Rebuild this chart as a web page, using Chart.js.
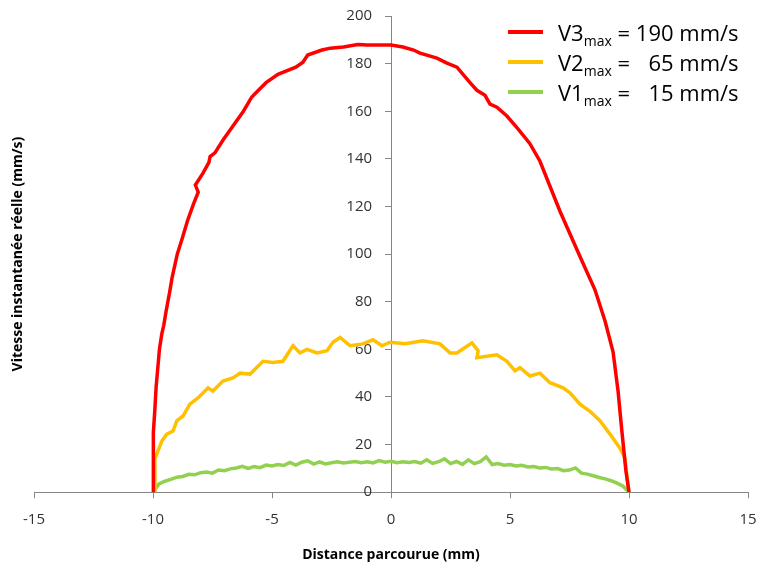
<!DOCTYPE html>
<html>
<head>
<meta charset="utf-8">
<script src="https://cdn.jsdelivr.net/npm/chart.js@4.4.1/dist/chart.umd.min.js"></script>
<style>
html, body { margin:0; padding:0; background:#fff; }
#wrap { position:relative; width:758px; height:566px; }
#legend { position:absolute; left:508px; top:17px; font-family:"Open Sans", sans-serif; font-size:22px; color:#000; border-collapse:collapse; }
#legend td { padding:0; height:30px; line-height:30px; white-space:pre; }
#legend .sw { width:50px; }
#legend .sw span { display:block; width:35px; height:4px; }
#legend .num { text-align:right; }
#legend sub { font-size:14px; vertical-align:-5px; line-height:0; }
</style>
</head>
<body>
<div id="wrap">
  <canvas id="chart" width="758" height="566"></canvas>
  <table id="legend"></table>
</div>
<script>
// series names and max speeds
const seriesNames = ["V3", "V2", "V1"];
const seriesMax = [190, 65, 15];
const seriesColors = ["#FF0000", "#FFC000", "#92D050"];

// V3 (red)
const v3X = [-10.0, -10.0, -9.97, -9.92, -9.87, -9.80, -9.73, -9.63, -9.55, -9.45, -9.30, -9.20, -8.98, -8.76, -8.55, -8.30, -8.10, -8.22, -7.90, -7.65, -7.60, -7.40, -7.05, -6.70, -6.20, -5.85, -5.60, -5.25, -4.75, -4.00, -3.70, -3.50, -2.90, -2.55, -2.00, -1.40, -1.00, 0.0, 0.50, 0.95, 1.22, 1.93, 2.35, 2.77, 3.32, 3.61, 3.95, 4.16, 4.45, 4.87, 5.30, 5.83, 6.26, 7.10, 7.94, 8.57, 8.99, 9.33, 9.54, 9.70, 9.87, 10.0];
const v3Y = [0, 20, 25, 35, 44, 52, 60, 66.5, 70, 76, 84, 90, 100, 107, 114, 121, 126, 129, 134, 138.5, 141, 142.5, 148, 153, 160, 166, 168.5, 172, 175.5, 178.5, 180.6, 183.6, 185.7, 186.5, 187, 188, 187.8, 187.8, 187, 185.7, 184.4, 182.3, 180.2, 178.5, 172, 168.8, 166.7, 163, 161.7, 158, 153, 146.5, 139, 118, 99, 85, 72, 59, 42.5, 25.7, 9, 0];

// V2 (orange)
const v2X = [-9.92, -9.92, -9.63, -9.42, -9.16, -9.00, -8.74, -8.45, -8.11, -7.69, -7.48, -7.06, -6.64, -6.34, -5.92, -5.38, -4.96, -4.54, -4.12, -3.82, -3.53, -3.11, -2.69, -2.44, -2.14, -1.72, -1.18, -0.76, -0.38, -0.04, 0.60, 1.34, 2.06, 2.48, 2.77, 3.40, 3.66, 3.61, 4.45, 4.87, 5.21, 5.42, 5.84, 6.26, 6.68, 7.23, 7.52, 7.94, 8.36, 8.78, 9.20, 9.62, 9.83, 9.92, 10.0];
const v2Y = [0, 14, 21.5, 24.4, 25.7, 30, 32, 37, 39.6, 43.8, 42.5, 46.7, 48, 50, 49.6, 55, 54.5, 55, 61.5, 58.5, 60, 58.5, 59.4, 63, 65, 61.5, 62.3, 64, 61.5, 63, 62.4, 63.6, 62.3, 58.5, 58.5, 62.7, 59.4, 56.5, 57.7, 55, 51, 52.3, 48.8, 50, 46, 43.8, 41.7, 37, 34, 30, 24.4, 18.5, 14.3, 6, 0];

// V1 (green)
const v1X = [-10, -9.75, -9.5, -9.25, -9, -8.75, -8.5, -8.25, -8, -7.75, -7.5, -7.25, -7, -6.75, -6.5, -6.25, -6, -5.75, -5.5, -5.25, -5, -4.75, -4.5, -4.25, -4, -3.75, -3.5, -3.25, -3, -2.75, -2.5, -2.25, -2, -1.75, -1.5, -1.25, -1, -0.75, -0.5, -0.25, 0, 0.25, 0.5, 0.75, 1, 1.25, 1.5, 1.75, 2, 2.25, 2.5, 2.75, 3, 3.25, 3.5, 3.75, 4, 4.25, 4.5, 4.75, 5, 5.25, 5.5, 5.75, 6, 6.25, 6.5, 6.75, 7, 7.25, 7.5, 7.75, 8, 8.25, 8.5, 8.75, 9, 9.25, 9.5, 9.75, 10];
const v1Y = [0, 3.5, 4.6, 5.4, 6.3, 6.6, 7.5, 7.3, 8.2, 8.5, 8.0, 9.3, 9.0, 9.8, 10.2, 10.9, 10.0, 10.8, 10.3, 11.4, 11.0, 11.6, 11.2, 12.5, 11.4, 12.6, 13.2, 11.8, 12.7, 11.9, 12.4, 12.8, 12.3, 12.6, 12.9, 12.4, 12.8, 12.3, 13.3, 12.6, 13.0, 12.4, 12.8, 12.5, 12.9, 12.2, 13.6, 12.1, 12.8, 14.0, 12.0, 12.9, 11.7, 13.6, 12.0, 12.8, 14.8, 11.6, 12.0, 11.3, 11.6, 11.0, 11.3, 10.6, 10.8, 10.2, 10.4, 9.7, 9.9, 9.0, 9.3, 10.2, 8.0, 7.6, 6.9, 6.2, 5.6, 4.8, 3.8, 2.5, 0];

// axis ticks
const xTicks = [-15, -10, -5, 0, 5, 10, 15];
const yTicks = [0, 20, 40, 60, 80, 100, 120, 140, 160, 180, 200];

const xTitle = "Distance parcourue (mm)";
const yTitle = "Vitesse instantanée réelle (mm/s)";

function toPoints(xs, ys){
    return xs.map((x, i) => ({x: x, y: ys[i]}));
}

const allSeries = [toPoints(v3X, v3Y), toPoints(v2X, v2Y), toPoints(v1X, v1Y)];

// legend built as html so the "max" subscript stays real text
const legend = document.getElementById("legend");
seriesNames.forEach((name, i) => {
    const row = document.createElement("tr");
    row.innerHTML = `<td class="sw"><span style="background:${seriesColors[i]}"></span></td>` +
        `<td>${name}<sub>max</sub> = </td><td class="num">${seriesMax[i]}</td><td> mm/s</td>`;
    legend.appendChild(row);
});

const tickFont = {family:"Open Sans", size:15};
const axisColor = "#868686";

const ctx = document.getElementById("chart").getContext("2d");
new Chart(ctx, {
    type: "line",
    data: {
        datasets: allSeries.map((pts, i) => ({
            label: seriesNames[i],
            data: pts,
            borderColor: seriesColors[i],
            backgroundColor: seriesColors[i],
            borderWidth: 3.5,
            pointRadius: 0,
            tension: 0,
            fill: false
        }))
    },
    options: {
        responsive: false,
        animation: false,
        layout: { padding: {left:10, right:10, top:16, bottom:3} },
        plugins: { legend: { display:false }, tooltip: { enabled:false } },
        scales: {
            x: {
                type: "linear",
                position: "bottom",
                min: -15, max: 15,
                afterBuildTicks: s => { s.ticks = xTicks.map(v => ({value:v})); },
                afterFit: s => { s.paddingLeft = 8; s.paddingRight = 8; },
                grid: { drawOnChartArea:false, drawTicks:true, tickLength:6, color:axisColor },
                border: { display:true, color:axisColor, width:1 },
                ticks: { font:tickFont, color:"#333", padding:13, maxRotation:0 },
                title: { display:true, text:xTitle, font:{family:"Open Sans", size:14, weight:"bold"}, color:"#000", padding:{top:4, bottom:0} }
            },
            y: {
                type: "linear",
                position: {x: 0},
                min: 0, max: 200,
                afterBuildTicks: s => { s.ticks = yTicks.map(v => ({value:v})); },
                grid: { drawOnChartArea:false, drawTicks:true, tickLength:6, color:axisColor },
                border: { display:true, color:axisColor, width:1 },
                // labels are right-aligned on the axis line, trailing spaces keep them off it
                ticks: { font:tickFont, color:"#333", callback: v => v + "\u2003 " }
            },
            yTitleAxis: {
                type: "linear",
                position: "left",
                axis: "y",
                display: true,
                afterFit: s => { s.width = 24; },
                grid: { display:false },
                border: { display:false },
                ticks: { display:false },
                title: { display:true, text:yTitle, font:{family:"Open Sans", size:14, weight:"bold"}, color:"#000", padding:{top:0, bottom:0} }
            }
        }
    }
});
</script>
</body>
</html>
